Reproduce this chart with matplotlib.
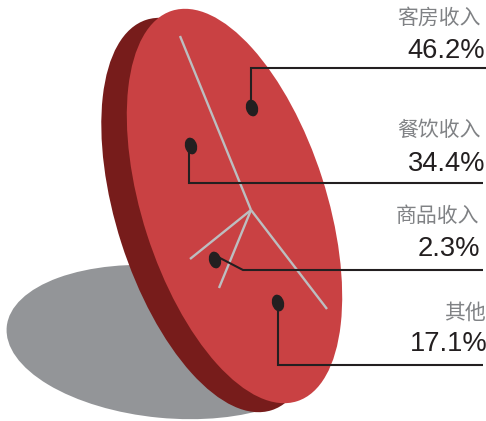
import matplotlib
matplotlib.use('Agg')
import matplotlib.pyplot as plt
from matplotlib.patches import Ellipse

categories = ['客房收入', '餐饮收入', '商品收入', '其他']
values = ['46.2%', '34.4%', '2.3%', '17.1%']

cat_right = [481, 481, 479, 486]
cat_base = [24, 136, 222, 319]
val_right = [485, 485, 480, 487.5]
val_base = [58, 171, 256, 351]

dot_x = [252, 191, 215, 278]
dot_y = [108, 146, 260, 303]

leaders = [
    ([251, 251, 486], [100, 68, 68]),
    ([189, 189, 483], [150, 183, 183]),
    ([218, 243, 483], [257, 270, 270]),
    ([278, 278, 483], [307, 365, 365]),
]
spokes = [
    ([180, 251], [36, 210]),
    ([190, 251], [259, 210]),
    ([219, 251], [288, 210]),
    ([327, 251], [309, 210]),
]

fig = plt.figure(figsize=(4.86, 4.21), dpi=100)
ax = fig.add_axes([0, 0, 1, 1])
ax.set_xlim(0, 486)
ax.set_ylim(421, 0)
ax.axis('off')

# shadow, then disc side and face
ax.add_patch(Ellipse((166, 342), 320, 152, angle=5.5, color='#939598', lw=0))
ax.add_patch(Ellipse((209, 215), 184, 410, angle=-17.8, color='#771c1b', lw=0))
ax.add_patch(Ellipse((234.5, 206), 184, 410, angle=-17.8, color='#c94143', lw=0))

for sx, sy in spokes:
    ax.plot(sx, sy, color='#bcbec0', lw=1.7, solid_capstyle='butt')

for lx, ly in leaders:
    ax.plot(lx, ly, color='#231f20', lw=1.5, solid_joinstyle='miter', solid_capstyle='butt')

for x, y in zip(dot_x, dot_y):
    ax.add_patch(Ellipse((x, y), 12, 17, angle=-15, color='#231f20', lw=0))

for i in range(len(categories)):
    ax.text(cat_right[i], cat_base[i], categories[i], ha='right', va='baseline', fontsize=15,
            color='#808285', family=['Noto Sans CJK SC', 'DejaVu Sans'])
    ax.text(val_right[i], val_base[i], values[i], ha='right', va='baseline', fontsize=19.7,
            color='#231f20', family='Liberation Sans')

fig.savefig('out.png', dpi=100)
